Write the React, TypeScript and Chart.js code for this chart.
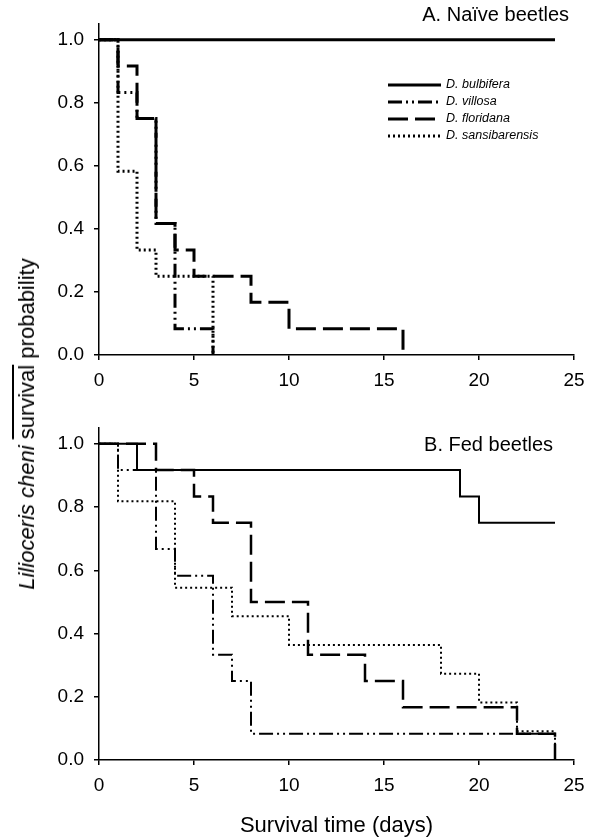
import React, { useEffect, useRef } from "react";
import { Chart, registerables } from "chart.js";
Chart.register(...registerables);

const SERIES_NAMES = ["D. bulbifera", "D. villosa", "D. floridana", "D. sansibarensis"];
const X_TICKS = [0, 5, 10, 15, 20, 25];
const Y_TICKS = [0, 0.2, 0.4, 0.6, 0.8, 1.0];
const PANEL_TITLES = ["A. Naïve beetles", "B. Fed beetles"];
const X_TITLE = "Survival time (days)";

// Panel A: naive beetles (time in days, survival probability)
const NAIVE_BULBIFERA_T = [0, 24];
const NAIVE_BULBIFERA_S = [1, 1];
const NAIVE_VILLOSA_T = [0, 1, 2, 3, 4, 6];
const NAIVE_VILLOSA_S = [1, 0.833, 0.75, 0.417, 0.083, 0];
const NAIVE_FLORIDANA_T = [0, 1, 2, 3, 4, 5, 8, 10, 16];
const NAIVE_FLORIDANA_S = [1, 0.917, 0.75, 0.417, 0.333, 0.25, 0.167, 0.083, 0];
const NAIVE_SANSIB_T = [0, 1, 2, 3, 6];
const NAIVE_SANSIB_S = [1, 0.583, 0.333, 0.25, 0];

// Panel B: fed beetles
const FED_BULBIFERA_T = [0, 2, 19, 20, 24];
const FED_BULBIFERA_S = [1, 0.917, 0.833, 0.75, 0.75];
const FED_VILLOSA_T = [0, 1, 3, 4, 6, 7, 8, 24];
const FED_VILLOSA_S = [1, 0.917, 0.667, 0.583, 0.333, 0.25, 0.083, 0.083];
const FED_FLORIDANA_T = [0, 3, 5, 6, 8, 11, 14, 16, 22, 24];
const FED_FLORIDANA_S = [1, 0.917, 0.833, 0.75, 0.5, 0.333, 0.25, 0.167, 0.083, 0];
const FED_SANSIB_T = [0, 1, 4, 7, 10, 18, 20, 22, 24];
const FED_SANSIB_S = [1, 0.818, 0.545, 0.455, 0.364, 0.273, 0.182, 0.091, 0];

const FONT = "'Liberation Sans', Arial, sans-serif";
const DASHES = [[], [14, 4, 2, 4, 2, 4], [20, 7], [2, 3]];

const pts = (t: number[], s: number[]) => t.map((x, i) => ({ x, y: s[i] }));

function makeConfig(panel: number, series: { t: number[]; s: number[] }[], lw: number, padTop: number, xH: number, showTitle: boolean) {
  const textPlugin = {
    id: "panelText" + panel,
    afterDraw(chart: any) {
      const ctx = chart.ctx;
      ctx.save();
      ctx.fillStyle = "#000";
      ctx.font = `20px ${FONT}`;
      ctx.textAlign = "right";
      ctx.textBaseline = "middle";
      if (panel === 0) ctx.fillText(PANEL_TITLES[0], 569, 15);
      else ctx.fillText(PANEL_TITLES[1], 553, 40);
      if (panel === 0) {
        // legend
        const x0 = 388, x1 = 441, y0 = 85, dy = 17;
        SERIES_NAMES.forEach((name, i) => {
          const y = y0 + i * dy;
          ctx.beginPath();
          ctx.setLineDash(DASHES[i]);
          ctx.lineWidth = 3;
          ctx.strokeStyle = "#000";
          ctx.moveTo(x0, y);
          ctx.lineTo(x1, y);
          ctx.stroke();
          ctx.setLineDash([]);
          ctx.font = `italic 12.5px ${FONT}`;
          ctx.textAlign = "left";
          ctx.fillText(name, x1 + 5, y);
        });
      }
      ctx.restore();
    },
  };
  return {
    type: "line",
    data: {
      datasets: series.map((d, i) => ({
        label: SERIES_NAMES[i],
        data: pts(d.t, d.s),
        borderColor: "#000",
        borderWidth: i === 2 && panel === 1 ? 2.5 : lw,
        borderDash: DASHES[i],
        stepped: true,
        pointRadius: 0,
        fill: false,
        tension: 0,
        borderCapStyle: "butt",
      })),
    },
    options: {
      animation: false,
      responsive: false,
      maintainAspectRatio: false,
      devicePixelRatio: 1,
      layout: { padding: { left: 0, right: 21, top: padTop, bottom: 0 } },
      plugins: { legend: { display: false }, tooltip: { enabled: false }, title: { display: false } },
      scales: {
        x: {
          type: "linear",
          min: 0,
          max: 25,
          afterBuildTicks: (s: any) => { s.ticks = X_TICKS.map((v) => ({ value: v })); },
          afterFit: (s: any) => { s.height = xH; },
          grid: { display: true, drawOnChartArea: false, drawTicks: true, tickLength: 5, color: "#000", lineWidth: 1.5 },
          border: { display: true, color: "#000", width: 1.5 },
          ticks: { color: "#000", font: { family: FONT, size: 19 }, padding: 9, maxRotation: 0, callback: (v: any) => String(v) },
          title: showTitle
            ? { display: true, text: X_TITLE, color: "#000", font: { family: FONT, size: 22 }, padding: { top: 2, bottom: 0 } }
            : { display: false },
        },
        y: {
          type: "linear",
          min: 0,
          max: 1.05,
          afterBuildTicks: (s: any) => { s.ticks = Y_TICKS.map((v) => ({ value: v })); },
          afterFit: (s: any) => { s.width = 99; },
          grid: { display: true, drawOnChartArea: false, drawTicks: true, tickLength: 5, color: "#000", lineWidth: 1.5 },
          border: { display: true, color: "#000", width: 1.5 },
          ticks: { color: "#000", font: { family: FONT, size: 19 }, padding: 10, callback: (v: any) => Number(v).toFixed(1) },
        },
      },
    },
    plugins: [textPlugin],
  } as any;
}

export default function App() {
  const topRef = useRef<HTMLCanvasElement>(null);
  const botRef = useRef<HTMLCanvasElement>(null);
  useEffect(() => {
    const c1 = new Chart(
      topRef.current!,
      makeConfig(
        0,
        [
          { t: NAIVE_BULBIFERA_T, s: NAIVE_BULBIFERA_S },
          { t: NAIVE_VILLOSA_T, s: NAIVE_VILLOSA_S },
          { t: NAIVE_FLORIDANA_T, s: NAIVE_FLORIDANA_S },
          { t: NAIVE_SANSIB_T, s: NAIVE_SANSIB_S },
        ],
        3,
        24,
        45,
        false
      )
    );
    const c2 = new Chart(
      botRef.current!,
      makeConfig(
        1,
        [
          { t: FED_BULBIFERA_T, s: FED_BULBIFERA_S },
          { t: FED_VILLOSA_T, s: FED_VILLOSA_S },
          { t: FED_FLORIDANA_T, s: FED_FLORIDANA_S },
          { t: FED_SANSIB_T, s: FED_SANSIB_S },
        ],
        2,
        23,
        79,
        true
      )
    );
    return () => {
      c1.destroy();
      c2.destroy();
    };
  }, []);
  return (
    <div style={{ position: "absolute", left: 0, top: 0, width: 595, height: 839, background: "#fff", overflow: "hidden" }}>
      <canvas ref={topRef} width={595} height={400} style={{ position: "absolute", left: 0, top: 0, width: 595, height: 400 }} />
      <canvas ref={botRef} width={595} height={434} style={{ position: "absolute", left: 0, top: 405, width: 595, height: 434 }} />
      <div
        style={{
          position: "absolute",
          left: 27,
          top: 424,
          transform: "translate(-50%, -50%) rotate(-90deg)",
          whiteSpace: "nowrap",
          fontFamily: FONT,
          fontSize: 22,
          color: "#000",
          lineHeight: 1,
        }}
      >
        <i>Lilioceris cheni</i> <span style={{ textDecoration: "overline" }}>survival</span> probability
      </div>
    </div>
  );
}
